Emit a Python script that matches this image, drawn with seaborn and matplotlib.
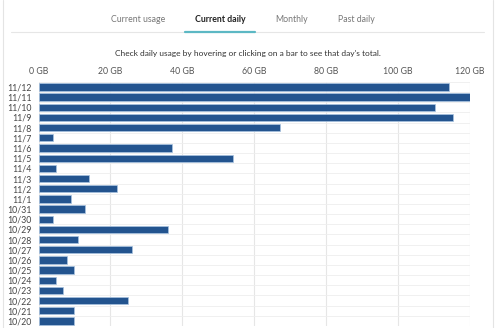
import matplotlib
matplotlib.use("Agg")
import matplotlib.pyplot as plt
from matplotlib.lines import Line2D
import seaborn as sns
import pandas as pd

days = ["11/12", "11/11", "11/10", "11/9", "11/8", "11/7", "11/6", "11/5", "11/4", "11/3",
        "11/2", "11/1", "10/31", "10/30", "10/29", "10/28", "10/27", "10/26", "10/25",
        "10/24", "10/23", "10/22", "10/21", "10/20"]
usage_gb = [114.2, 120.0, 110.2, 115.2, 67.1, 3.9, 37.0, 54.1, 5.0, 14.0,
            21.9, 8.9, 13.0, 3.9, 36.1, 11.0, 26.0, 7.9, 10.0,
            5.0, 6.9, 25.0, 10.0, 10.0]
x_ticks = [0, 20, 40, 60, 80, 100, 120]
x_tick_labels = ["0 GB", "20 GB", "40 GB", "60 GB", "80 GB", "100 GB", "120 GB"]
tabs = ["Current usage", "Current daily", "Monthly", "Past daily"]
subtitle = "Check daily usage by hovering or clicking on a bar to see that day's total."

df = pd.DataFrame({"day": days, "usage": usage_gb})

sns.set_theme(style="white")
plt.rcParams['font.family'] = ['Lato', 'DejaVu Sans']

W, H = 495, 328
fig = plt.figure(figsize=(W / 100, H / 100), dpi=100)
fig.patch.set_facecolor("white")

n = len(days)
row_px = 10.17
top_px = 81.9
bottom_px = top_px + row_px * n
ax = fig.add_axes([38.5 / W, 1 - bottom_px / H, (470 - 38.5) / W, (bottom_px - top_px) / H])

sns.barplot(data=df, x="usage", y="day", orient="h", color="#23548f", width=0.72,
            edgecolor="#a9c3e0", linewidth=0.5, saturation=1, ax=ax, zorder=3)

ax.set_xlim(0, 120)
ax.set_ylim(n - 0.5, -0.5)
ax.set_xticks(x_ticks)
ax.set_xticklabels(x_tick_labels)
ax.xaxis.tick_top()
ax.tick_params(axis="x", length=0, pad=4, labelsize=6.3, labelcolor="#555555")
ax.tick_params(axis="y", length=0, pad=5, labelsize=6.3, labelcolor="#444444")
ax.set_xlabel("")
ax.set_ylabel("")
for v in x_ticks:
    ax.axvline(v, color="#e6e6e6", lw=0.8, zorder=0)
for i in range(n + 1):
    ax.axhline(i - 0.5, color="#eeeeee", lw=0.6, zorder=0)
for s in ax.spines.values():
    s.set_visible(False)

# page chrome
fig.add_artist(Line2D([2.5 / W, 2.5 / W], [0, 1], color="#e4e4e4", lw=0.8))
fig.add_artist(Line2D([492.5 / W, 492.5 / W], [0, 1], color="#e4e4e4", lw=0.8))
fig.add_artist(Line2D([11 / W, 484 / W], [1 - 32 / H, 1 - 32 / H], color="#e6e6e6", lw=0.8))
fig.add_artist(Line2D([185 / W, 255 / W], [1 - 31.5 / H, 1 - 31.5 / H], color="#5cb8c4", lw=1.6))

tab_x = [138, 220, 291.5, 356]
for t, xx in zip(tabs, tab_x):
    bold = t == "Current daily"
    fig.text(xx / W, 1 - 20 / H, t, ha="center", va="center", fontsize=6.3,
             color="#222222" if bold else "#777777", fontweight="bold" if bold else "normal")

fig.text(248 / W, 1 - 53.5 / H, subtitle, ha="center", va="center", fontsize=6.0, color="#333333")

fig.savefig("out.png", dpi=100, facecolor="white")
